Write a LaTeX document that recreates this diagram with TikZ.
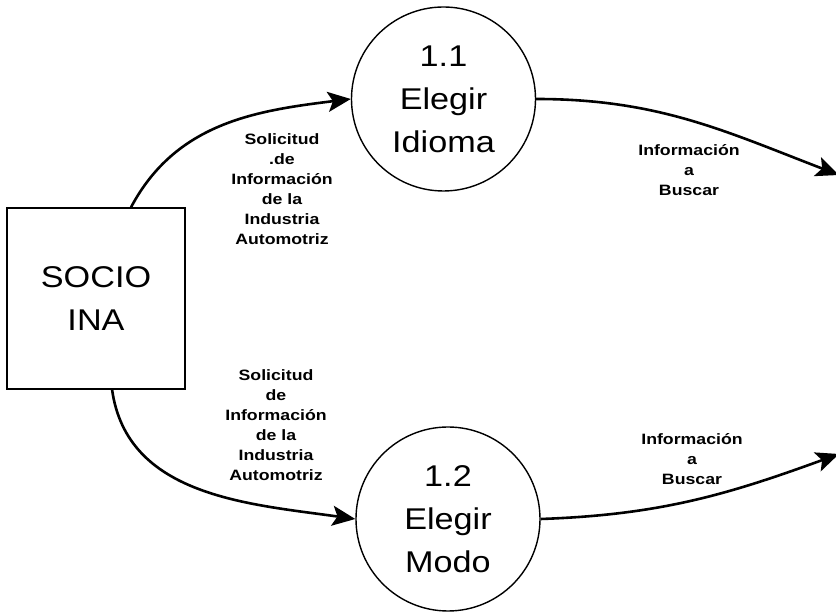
\documentclass[tikz,border=0pt]{standalone}
\usepackage{fontspec}
\setmainfont{Liberation Sans}[FakeStretch=1.14]
\newfontfamily\flujofont{Liberation Sans}[FakeStretch=1.18]
\usetikzlibrary{arrows.meta}
\begin{document}
\begin{tikzpicture}[x=1pt,y=1pt,
    proceso/.style={draw,line width=1.4pt,circle,minimum size=184pt,inner sep=0pt,
        align=center,font=\fontsize{30}{43}\selectfont},
    entidad/.style={draw,line width=1.4pt,minimum width=178pt,minimum height=181pt,
        align=center,font=\fontsize{30}{43}\selectfont},
    etiqueta/.style={align=center,inner sep=0pt,font=\flujofont\bfseries\fontsize{15}{20}\selectfont},
    flujo/.style={line width=2.6pt,-{Stealth[length=23pt,width=20pt,inset=5pt]}}]
                \useasboundingbox (0,0) rectangle (836,615);
                \node[entidad] (socio) at (96,316.5) {SOCIO\\INA};
                \node[proceso] (idioma) at (443.5,516) {1.1\\Elegir\\Idioma};
                \node[proceso] (modo) at (448,96) {1.2\\Elegir\\Modo};
                \coordinate (buscar1) at (839,440);
                \coordinate (buscar2) at (839,161);
                \draw[flujo] (socio.69) to[out=62,in=187] (idioma.west);
                \draw[flujo] (socio.-80) to[out=-82,in=172] (modo.west);
                \draw[flujo] (idioma.east) to[out=0,in=159] (buscar1);
                \draw[flujo] (modo.east) to[out=2,in=200] (buscar2);
                \node[etiqueta] (sol1) at (282,425.5) {Solicitud\\.de\\Información\\de la\\Industria\\Automotriz};
                \node[etiqueta] (sol2) at (276,190) {Solicitud\\de\\Información\\de la\\Industria\\Automotriz};
                \node[etiqueta] (inf1) at (689,445) {Información\\a\\Buscar};
                \node[etiqueta] (inf2) at (692,156) {Información\\a\\Buscar};
            \end{tikzpicture}
\end{document}
